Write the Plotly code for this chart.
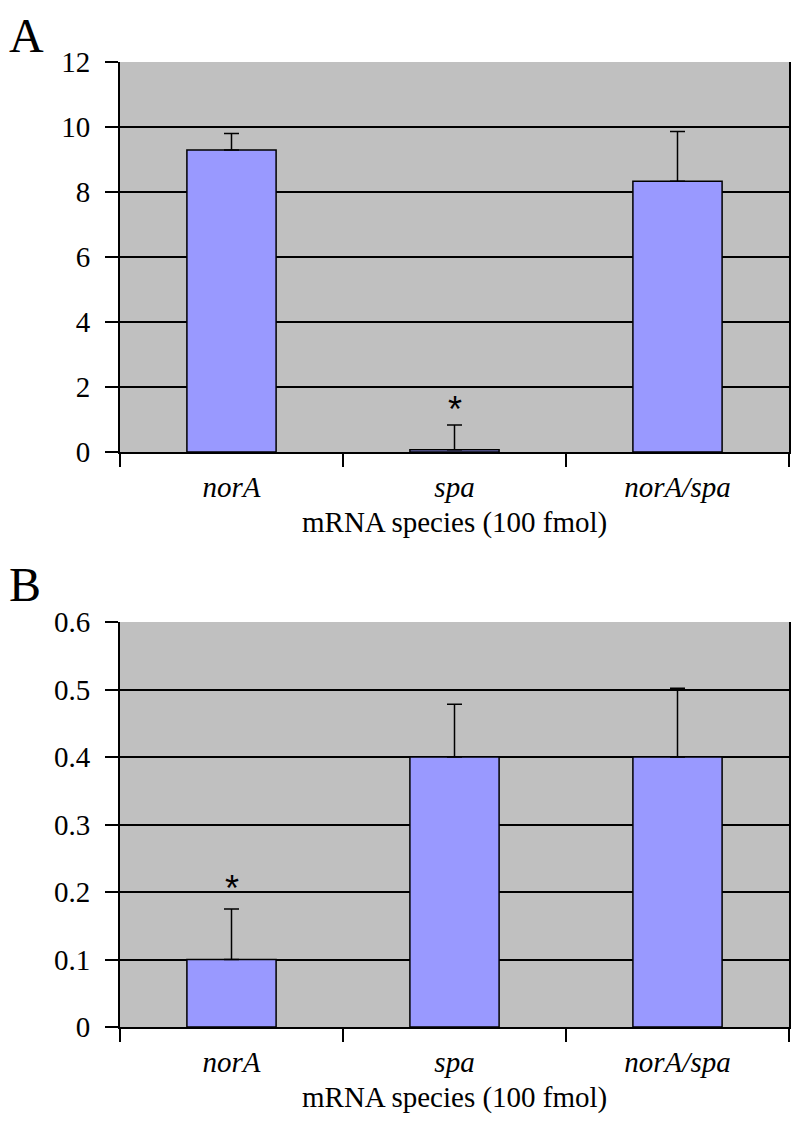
import plotly.graph_objects as go

categories = ["norA", "spa", "norA/spa"]

# Panel A
a_values = [9.29, 0.07, 8.33]
a_errors = [0.51, 0.76, 1.53]
a_ticks = [0, 2, 4, 6, 8, 10, 12]
a_star_cat = "spa"
a_star_y = 1.32

# Panel B
b_values = [0.1, 0.4, 0.4]
b_errors = [0.075, 0.078, 0.102]
b_ticks = [0, 0.1, 0.2, 0.3, 0.4, 0.5, 0.6]
b_tick_text = ["0", "0.1", "0.2", "0.3", "0.4", "0.5", "0.6"]
b_star_cat = "norA"
b_star_y = 0.205

xlabel = "mRNA species (100 fmol)"

W, H = 800, 1124
OFF = 8  # page body margin
SERIF = "Liberation Serif"
BAR = "#9999ff"
BG = "#c0c0c0"


def px(x):
    return (x - OFF) / W


def py(y):
    return 1 - (y - OFF) / H


fig = go.Figure()


def bars(vals, errs, xa, ya):
    return go.Bar(
        x=categories, y=vals, xaxis=xa, yaxis=ya,
        marker=dict(color=BAR, line=dict(color="black", width=1.5)),
        error_y=dict(type="data", array=errs, arrayminus=[0] * len(errs),
                     symmetric=False, color="black", thickness=1.5, width=7.5),
        showlegend=False,
    )


fig.add_trace(bars(a_values, a_errors, "x", "y"))
fig.add_trace(bars(b_values, b_errors, "x2", "y2"))

xdom = [px(120), px(789)]
ydomA = [py(452), py(62)]
ydomB = [py(1027), py(622)]

xcommon = dict(
    domain=xdom, type="category", range=[-0.5, 2.5], automargin=False,
    tickson="boundaries", ticks="outside", ticklen=13, tickwidth=2,
    tickcolor="black", showline=True, linecolor="black", linewidth=2,
    showgrid=False, zeroline=False,
    tickfont=dict(family=SERIF, size=29, color="black", style="italic"),
    ticklabelstandoff=8,
)
ycommon = dict(
    ticks="outside", ticklen=13, tickwidth=2, tickcolor="black", automargin=False,
    showline=True, linecolor="black", linewidth=2, mirror=True,
    showgrid=True, gridcolor="black", gridwidth=2, zeroline=False,
    tickfont=dict(family=SERIF, size=29, color="black"),
    ticklabelstandoff=9,
)

fig.update_layout(
    width=W, height=H,
    margin=dict(l=0, r=0, t=0, b=0, autoexpand=False),
    font=dict(family=SERIF),
    paper_bgcolor="white", plot_bgcolor=BG,
    bargap=0.6,
    xaxis=dict(**xcommon, anchor="y"),
    yaxis=dict(**ycommon, domain=ydomA, range=[0, 12], tickvals=a_ticks, anchor="x"),
    xaxis2=dict(**xcommon, anchor="y2"),
    yaxis2=dict(**ycommon, domain=ydomB, range=[0, 0.6], tickvals=b_ticks,
                ticktext=b_tick_text, anchor="x2"),
)

anns = [
    dict(text="A", x=px(8), y=1.0, xref="paper", yref="paper",
         xanchor="left", yanchor="top", showarrow=False, borderpad=0,
         font=dict(family=SERIF, size=48, color="black")),
    dict(text="B", x=px(8), y=py(557), xref="paper", yref="paper",
         xanchor="left", yanchor="top", showarrow=False, borderpad=0,
         font=dict(family=SERIF, size=48, color="black")),
    dict(text=xlabel, x=px(454.5), y=py(522), xref="paper", yref="paper",
         xanchor="center", yanchor="middle", showarrow=False,
         font=dict(family=SERIF, size=29, color="black")),
    dict(text=xlabel, x=px(454.5), y=py(1097), xref="paper", yref="paper",
         xanchor="center", yanchor="middle", showarrow=False,
         font=dict(family=SERIF, size=29, color="black")),
    dict(text="*", x=a_star_cat, y=a_star_y, xref="x", yref="y",
         xanchor="center", yanchor="middle", showarrow=False,
         font=dict(family="Liberation Sans", size=36, color="black")),
    dict(text="*", x=b_star_cat, y=b_star_y, xref="x2", yref="y2",
         xanchor="center", yanchor="middle", showarrow=False,
         font=dict(family="Liberation Sans", size=36, color="black")),
]
fig.update_layout(annotations=anns)

fig.write_html("out.html")
